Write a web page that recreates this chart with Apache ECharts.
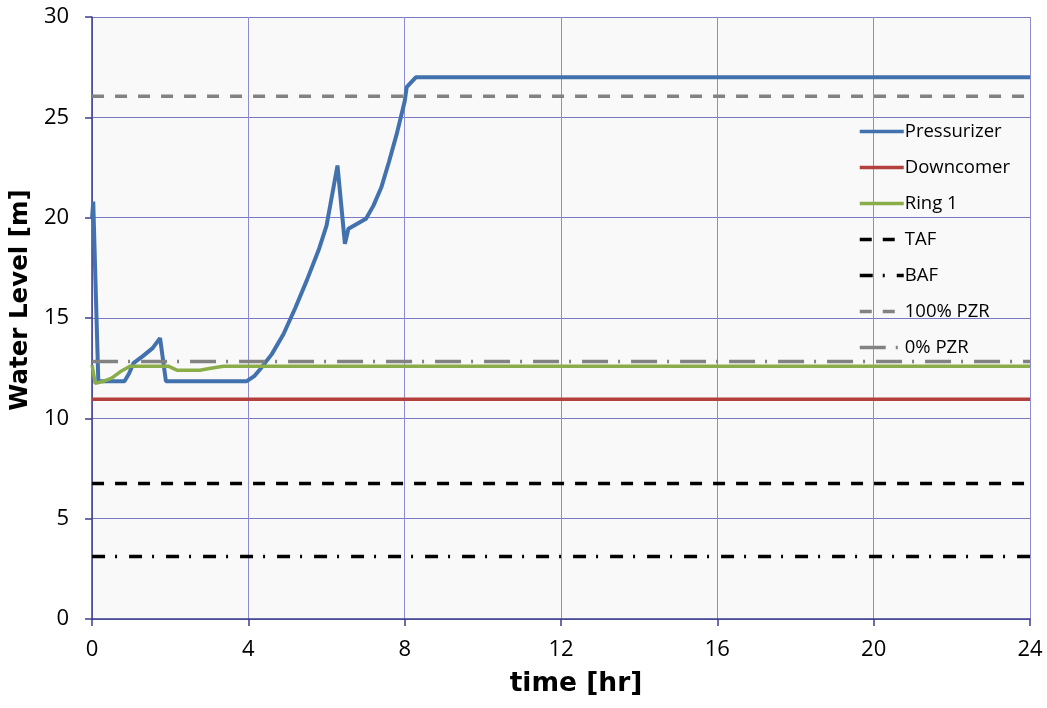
<!DOCTYPE html>
<html><head><meta charset="utf-8">
<script src="https://cdn.jsdelivr.net/npm/echarts@6/dist/echarts.min.js"></script>
<style>html,body{margin:0;padding:0;background:#fff;}#c{width:1047px;height:708px;}</style>
</head><body><div id="c"></div>
<script>
// Data
var xTicks = [0, 4, 8, 12, 16, 20, 24];
var pzrTime  = [0, 0.03, 0.16, 0.83, 0.95, 1.06, 1.3, 1.55, 1.74, 1.89, 3.96, 4.15, 4.3, 4.6, 4.9, 5.2, 5.5, 5.8, 6.0, 6.28, 6.47, 6.56, 7.01, 7.2, 7.4, 7.6, 7.8, 8.0, 8.05, 8.29, 24];
var pzrLevel = [20.0, 20.8, 11.85, 11.85, 12.25, 12.75, 13.1, 13.5, 14.0, 11.85, 11.85, 12.1, 12.45, 13.2, 14.2, 15.5, 16.9, 18.4, 19.6, 22.6, 18.7, 19.45, 19.95, 20.6, 21.5, 22.8, 24.2, 25.8, 26.5, 27.0, 27.0];
var dcTime  = [0, 24];
var dcLevel = [10.95, 10.95];
var ringTime  = [0, 0.08, 0.3, 0.5, 0.72, 0.97, 1.95, 2.17, 2.76, 3.0, 3.36, 24];
var ringLevel = [12.66, 11.74, 11.85, 12.0, 12.32, 12.6, 12.6, 12.4, 12.4, 12.48, 12.6, 12.6];
var tafLevel = 6.75;
var bafLevel = 3.12;
var pzr100Level = 26.05;
var pzr0Level = 12.83;
var seriesNames = ['Pressurizer', 'Downcomer', 'Ring 1', 'TAF', 'BAF', '100% PZR', '0% PZR'];

function pairs(xs, ys) { return xs.map(function (x, i) { return [x, ys[i]]; }); }
function flat(v) { return [[xTicks[0], v], [xTicks[xTicks.length - 1], v]]; }

var FONT = '"Open Sans", "Noto Sans", sans-serif';
var TFONT = '"DejaVu Sans", sans-serif';
var chart = echarts.init(document.getElementById('c'), null, { renderer: 'canvas' });
function lineSeries(name, data, color, type, width) {
  return {
    name: name, type: 'line', data: data, symbol: 'none', silent: true,
    animation: false,
    itemStyle: { color: color },
    lineStyle: { color: color, width: width, type: type }
  };
}
chart.setOption({
  animation: false,
  backgroundColor: '#ffffff',
  grid: { left: 92, right: 17, top: 17, bottom: 89, show: true, backgroundColor: '#f9f9f9', borderWidth: 0 },
  xAxis: {
    type: 'value', min: 0, max: 24, interval: 4,
    name: 'time [hr]', nameLocation: 'middle', nameGap: 52,
    nameTextStyle: { fontFamily: TFONT, fontSize: 26.5, fontWeight: 'bold', color: '#000', padding: [0, 0, 0, 30] },
    axisLine: { show: true, onZero: false, lineStyle: { color: '#3d3d8f', width: 1.5 } },
    axisTick: { show: true, inside: false, length: 7, lineStyle: { color: '#3d3d8f', width: 1.5 } },
    axisLabel: { fontFamily: FONT, fontSize: 22, color: '#000', margin: 20 },
    splitLine: { show: true, lineStyle: { color: '#8c8cd0', width: 1 } }
  },
  yAxis: {
    type: 'value', min: 0, max: 30, interval: 5,
    name: 'Water Level [m]', nameLocation: 'middle', nameGap: 58, nameRotate: 90,
    nameTextStyle: { fontFamily: TFONT, fontSize: 24.5, fontWeight: 'bold', color: '#000', padding: [0, 0, 0, 36] },
    axisLine: { show: true, onZero: false, lineStyle: { color: '#3d3d8f', width: 1.5 } },
    axisTick: { show: true, inside: false, length: 7, lineStyle: { color: '#3d3d8f', width: 1.5 } },
    axisLabel: { fontFamily: FONT, fontSize: 22, color: '#000', margin: 23 },
    splitLine: { show: true, lineStyle: { color: '#7a7ac0', width: 1 } }
  },
  legend: {
    orient: 'vertical', left: 858, top: 122, padding: 0,
    itemWidth: 44, itemHeight: 14, itemGap: 17,
    itemStyle: { opacity: 0 },
    lineStyle: { width: 3.5 },
    textStyle: { fontFamily: FONT, fontSize: 18.5, color: '#000', padding: [0, 0, 0, -4] },
    data: seriesNames, selectedMode: false
  },
  series: [
    lineSeries(seriesNames[0], pairs(pzrTime, pzrLevel), '#4272ad', 'solid', 4),
    lineSeries(seriesNames[1], pairs(dcTime, dcLevel), '#b3403d', 'solid', 3.5),
    lineSeries(seriesNames[2], pairs(ringTime, ringLevel), '#8aad4a', 'solid', 3.5),
    lineSeries(seriesNames[3], flat(tafLevel), '#000000', [12, 11], 3.5),
    lineSeries(seriesNames[4], flat(bafLevel), '#000000', [13, 10, 2, 12], 3.5),
    lineSeries(seriesNames[5], flat(pzr100Level), '#828282', [12, 11], 3.5),
    lineSeries(seriesNames[6], flat(pzr0Level), '#828282', [26, 10, 2, 11], 3.5)
  ]
});
</script></body></html>
